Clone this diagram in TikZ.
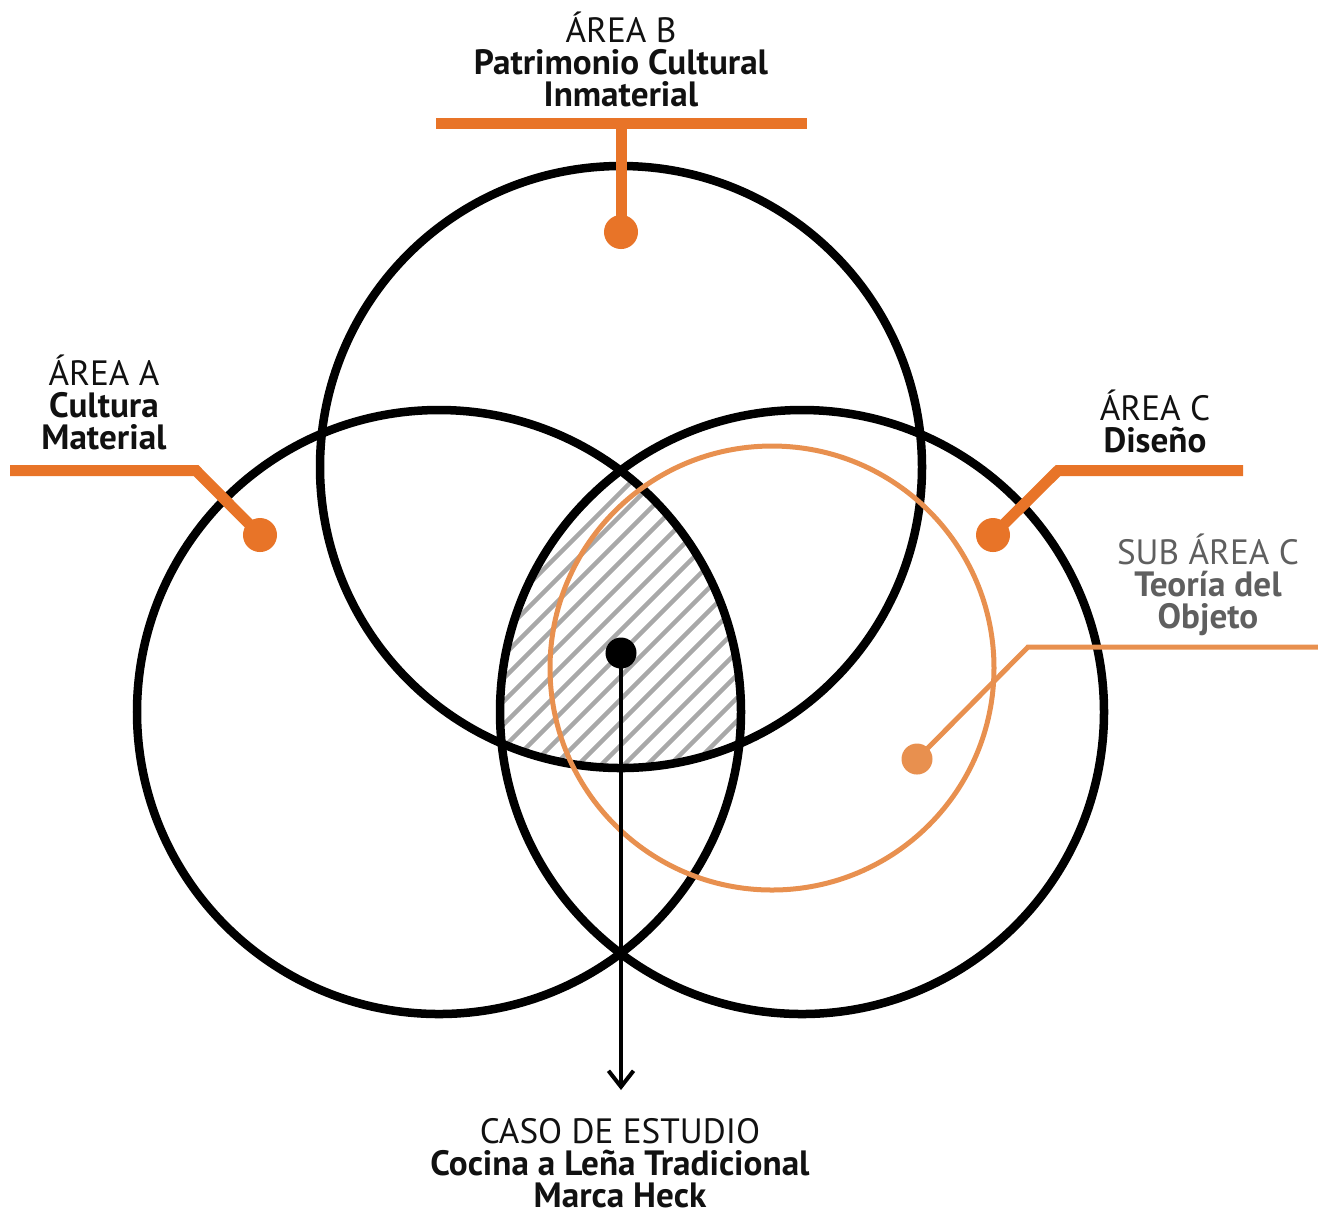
\documentclass[tikz,border=0pt]{standalone}
\usepackage{fontspec}
\setmainfont{PT Sans}
\usetikzlibrary{arrows.meta}
\definecolor{areaorange}{HTML}{E87428}
\definecolor{suborange}{HTML}{E8904F}
\definecolor{subgray}{HTML}{5F5F5F}
\definecolor{hatchgray}{HTML}{A8A8A8}
\definecolor{inkblack}{HTML}{111111}
\tikzset{
  areacircle/.style={draw=black, line width=0.085cm},
  leader/.style={draw=areaorange, line width=0.11cm, line join=miter},
  subleader/.style={draw=suborange, line width=0.05cm, line join=miter},
  areadot/.style={circle, fill=areaorange, inner sep=0pt, minimum size=0.34cm},
  subdot/.style={circle, fill=suborange, inner sep=0pt, minimum size=0.31cm},
  casedot/.style={circle, fill=black, inner sep=0pt, minimum size=0.31cm},
  lbl/.style={anchor=base, inner sep=0pt, text=inkblack,
    font=\fontsize{10}{9.1}\selectfont},
}
% centred lines on a fixed baseline grid; the box sits on its first baseline
\newcommand{\lblstack}[1]{\vtop{\baselineskip=9.1pt\lineskiplimit=-20pt
  \lineskip=0pt\halign{\hfil##\hfil\cr#1\crcr}}}
\begin{document}
\begin{tikzpicture}[x=0.01cm, y=-0.01cm]
\useasboundingbox (0,0) rectangle (1318,1226);

% circle centres
\coordinate (cA) at (439,712);
\coordinate (cB) at (621,467);
\coordinate (cC) at (802,712);
\coordinate (cS) at (772,668);

% hatched common region of the three areas
\begin{scope}
  \clip (cA) circle[radius=302];
  \clip (cB) circle[radius=301];
  \clip (cC) circle[radius=302];
  \foreach \c in {0,23,...,1400} {
    \draw[hatchgray, line width=0.045cm] (\c-400,800) -- (\c+200,200);
  }
\end{scope}

% the three main areas
\draw[areacircle] (cA) circle[radius=302];
\draw[areacircle] (cB) circle[radius=301];
\draw[areacircle] (cC) circle[radius=302];

% sub area
\draw[suborange, line width=0.05cm] (cS) circle[radius=222];

% leader points and bends
\node[areadot] (dotA) at (260,535) {};
\node[areadot] (dotB) at (621,232) {};
\node[areadot] (dotC) at (993,535) {};
\node[subdot]  (dotS) at (917,759) {};
\coordinate (barAl) at (10,470.5);
\coordinate (barAk) at (196,470.5);
\coordinate (barBl) at (436,123);
\coordinate (barBr) at (807,123);
\coordinate (barBm) at (621,123);
\coordinate (barCk) at (1058,470.5);
\coordinate (barCr) at (1243,470.5);
\coordinate (barSk) at (1028,647);
\coordinate (barSr) at (1318,647);

\draw[leader] (barAl) -- (barAk) -- (dotA.center);
\draw[leader] (barBl) -- (barBr);
\draw[leader] (barBm) -- (dotB.center);
\draw[leader] (dotC.center) -- (barCk) -- (barCr);
\draw[subleader] (dotS.center) -- (barSk) -- (barSr);

% case study pointer
\node[casedot] (dotCase) at (621,653) {};
\coordinate (caseTip) at (621,1090);
\draw[black, line width=0.04cm, -{Straight Barb[length=0.16cm, width=0.25cm]}]
  (dotCase.center) -- (caseTip);

% labels
\node[lbl] (lblB) at (621,42) {\lblstack{ÁREA B\cr \textbf{Patrimonio Cultural}\cr \textbf{Inmaterial}}};
\node[lbl] (lblA) at (104,385) {\lblstack{ÁREA A\cr \textbf{Cultura}\cr \textbf{Material}}};
\node[lbl] (lblC) at (1155,420) {\lblstack{ÁREA C\cr \textbf{Diseño}}};
\node[lbl, text=subgray] (lblS) at (1208,564) {\lblstack{SUB ÁREA C\cr \textbf{Teoría del}\cr \textbf{Objeto}}};
\node[lbl] (lblCase) at (620,1143) {\lblstack{CASO DE ESTUDIO\cr \textbf{Cocina a Leña Tradicional}\cr \textbf{Marca Heck}}};
\end{tikzpicture}
\end{document}
